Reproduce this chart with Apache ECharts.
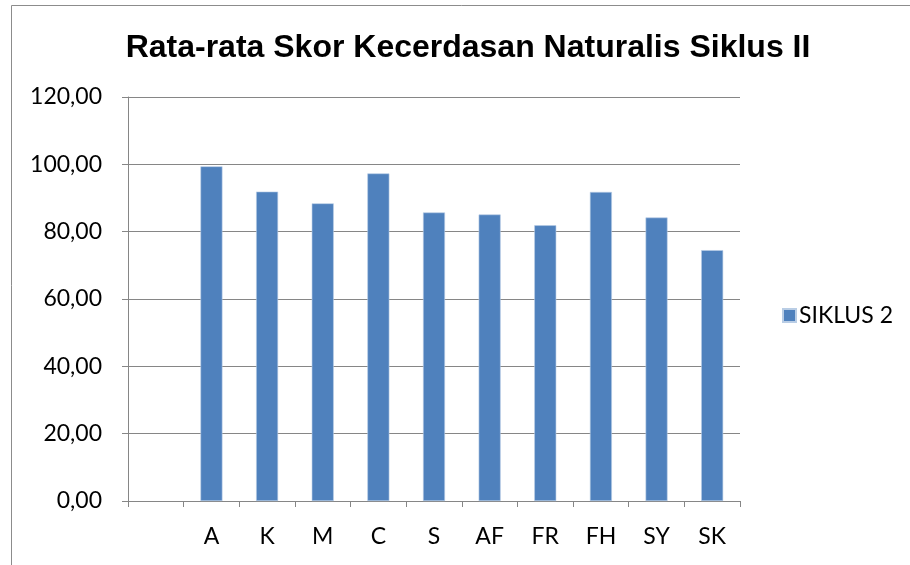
<!DOCTYPE html>
<html>
<head>
<meta charset="utf-8">
<script src="https://cdn.jsdelivr.net/npm/echarts@6/dist/echarts.min.js"></script>
<style>html,body{margin:0;padding:0;background:#fff}#c{width:910px;height:565px}</style>
</head>
<body>
<div id="c"></div>
<script>
const title = 'Rata-rata Skor Kecerdasan Naturalis Siklus II';
const categories = ['', 'A', 'K', 'M', 'C', 'S', 'AF', 'FR', 'FH', 'SY', 'SK'];
const siklus2 = [null, 99.4, 91.9, 88.4, 97.3, 85.7, 85.1, 81.9, 91.8, 84.2, 74.5];
const seriesName = 'SIKLUS 2';

const chart = echarts.init(document.getElementById('c'));
chart.setOption({
  animation: false,
  backgroundColor: '#fff',
  graphic: [{
    type: 'rect', shape: {x: 11.5, y: 5.5, width: 1000, height: 1000},
    style: {fill: 'none', stroke: '#8c8c8c', lineWidth: 1}, silent: true, z: -1
  }],
  title: {
    text: title, left: 468, top: 32, textAlign: 'center', padding: 0,
    textStyle: {fontFamily: 'Liberation Sans', fontWeight: 'bold', fontSize: 32, color: '#000'}
  },
  legend: {
    data: [{name: seriesName, icon: 'rect'}], left: 782, top: 304, orient: 'vertical', padding: 0,
    itemWidth: 13, itemHeight: 13, itemGap: 8,
    textStyle: {fontFamily: 'Lato', fontSize: 23, color: '#000', padding: [0, 0, 0, -2]}
  },
  grid: {left: 128, right: 170, top: 97, bottom: 64, containLabel: false},
  xAxis: {
    type: 'category', data: categories,
    axisLine: {lineStyle: {color: '#868686', width: 1}},
    axisTick: {show: true, length: 6, interval: 0, lineStyle: {color: '#868686'}},
    axisLabel: {fontFamily: 'Lato', fontSize: 23, color: '#000', margin: 24, interval: 0}
  },
  yAxis: {
    type: 'value', min: 0, max: 120, interval: 20,
    axisLine: {show: true, lineStyle: {color: '#868686', width: 1}},
    axisTick: {show: true, length: 6, lineStyle: {color: '#868686'}},
    splitLine: {lineStyle: {color: '#868686', width: 1}},
    axisLabel: {fontFamily: 'Lato', fontSize: 23, color: '#000', margin: 26,
      formatter: v => v.toFixed(2).replace('.', ',')}
  },
  series: [{
    name: seriesName, type: 'bar', data: siklus2, barWidth: 22,
    itemStyle: {color: '#4F81BD', borderColor: '#B9CDE5', borderWidth: 0.6}
  }]
});
</script>
</body>
</html>
